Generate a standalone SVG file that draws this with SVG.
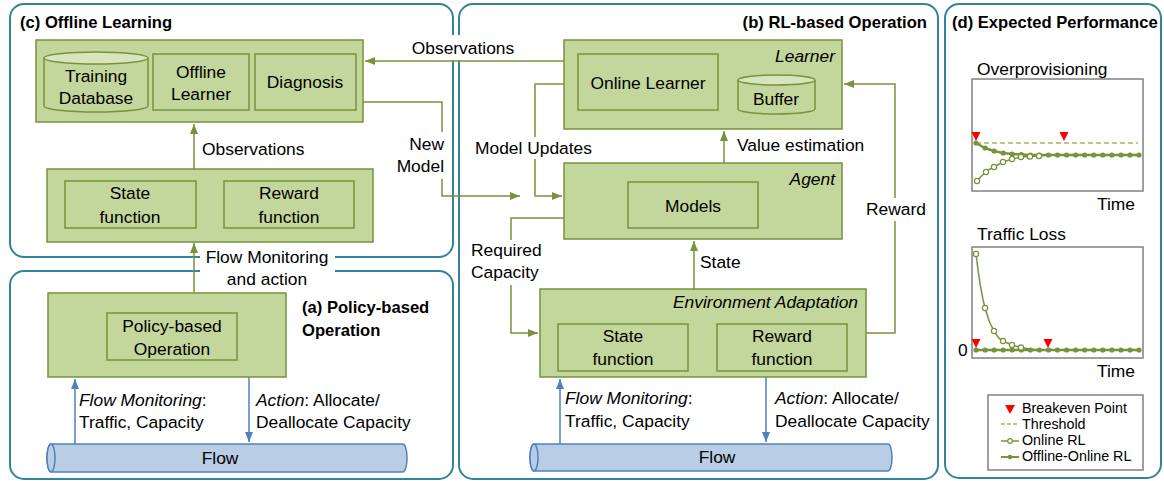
<svg xmlns="http://www.w3.org/2000/svg" width="1164" height="481" viewBox="0 0 1164 481">
<style>
text{font-family:"Liberation Sans",Arial,sans-serif;font-size:17.4px;fill:#000}
.t{font-weight:bold;font-size:16.6px}
.i{font-style:italic}
.c{text-anchor:middle}
.r{text-anchor:end}
.s{font-size:14.3px}
.panel{fill:none;stroke:#31849B;stroke-width:2}
.box{fill:#C3D69B;stroke:#77933C;stroke-width:1.5}
.top{fill:#D7E4BD;stroke:#77933C;stroke-width:1.5}
.flow{fill:#B9CDE5;stroke:#4F81BD;stroke-width:1.5}
.g{fill:none;stroke:#77933C;stroke-width:1.5}
.b{fill:none;stroke:#4F81BD;stroke-width:1.5}
.bg{fill:#fff}
.chart{fill:#fff;stroke:#808080;stroke-width:1.5}
.tri{fill:#FF0000}
</style>
<defs>
<marker id="ag" viewBox="0 0 10 8" refX="10" refY="4" markerWidth="10" markerHeight="8" markerUnits="userSpaceOnUse" orient="auto"><path d="M0,0 L10,4 L0,8 Z" fill="#77933C"/></marker>
<marker id="ab" viewBox="0 0 10 8" refX="10" refY="4" markerWidth="10" markerHeight="8" markerUnits="userSpaceOnUse" orient="auto"><path d="M0,0 L10,4 L0,8 Z" fill="#4F81BD"/></marker>
</defs>
<rect width="1164" height="481" fill="#fff"/>

<g id="panels">
<rect class="panel" x="10" y="4" width="443" height="253" rx="14"/>
<rect class="panel" x="10" y="271" width="443" height="208" rx="14"/>
<rect class="panel" x="459" y="4" width="479" height="475" rx="14"/>
<rect class="panel" x="945" y="4" width="216" height="474" rx="14"/>
<text class="t" x="20" y="28">(c) Offline Learning</text>
<text class="t r" x="927" y="28">(b) RL-based Operation</text>
<text class="t" x="952" y="28">(d) Expected Performance</text>
<text class="t" x="302" y="313">(a) Policy-based</text>
<text class="t" x="302" y="336">Operation</text>
</g>

<g id="connectors">
<path class="g" d="M564,61 H365" marker-end="url(#ag)"/>
<path class="g" d="M194,169 V124" marker-end="url(#ag)"/>
<path class="g" d="M194,293 V243" marker-end="url(#ag)"/>
<path class="g" d="M363,102 H442 V196 H520" marker-end="url(#ag)"/>
<path class="g" d="M564,84 H535 V196 H562" marker-end="url(#ag)"/>
<path class="g" d="M724,163 V131" marker-end="url(#ag)"/>
<path class="g" d="M694,289 V241" marker-end="url(#ag)"/>
<path class="g" d="M564,218 H511 V333 H538" marker-end="url(#ag)"/>
<path class="g" d="M866,333 H895 V84 H844" marker-end="url(#ag)"/>
<path class="b" d="M75,444 V379" marker-end="url(#ab)"/>
<path class="b" d="M249,377 V442" marker-end="url(#ab)"/>
<path class="b" d="M560,444 V379" marker-end="url(#ab)"/>
<path class="b" d="M766,377 V442" marker-end="url(#ab)"/>
</g>

<g id="labels">
<rect class="bg" x="406" y="35" width="114" height="25"/>
<text class="c" x="463" y="54">Observations</text>
<text x="202" y="155">Observations</text>
<rect class="bg" x="200" y="244" width="135" height="46"/>
<text class="c" x="267" y="263">Flow Monitoring</text>
<text class="c" x="267" y="285">and action</text>
<rect class="bg" x="400" y="132" width="48" height="47"/>
<text class="r" x="444" y="150">New</text>
<text class="r" x="444" y="172">Model</text>
<rect class="bg" x="472" y="137" width="130" height="22"/>
<text x="475" y="154">Model Updates</text>
<text x="737" y="151">Value estimation</text>
<rect class="bg" x="864" y="198" width="64" height="23"/>
<text class="c" x="896" y="215">Reward</text>
<rect class="bg" x="468" y="240" width="78" height="45"/>
<text x="471" y="256">Required</text>
<text x="471" y="278">Capacity</text>
<text x="700" y="268">State</text>
<text x="79" y="406"><tspan class="i">Flow Monitoring</tspan>:</text>
<text x="79" y="428">Traffic, Capacity</text>
<text x="256" y="406"><tspan class="i">Action</tspan>: Allocate/</text>
<text x="256" y="428">Deallocate Capacity</text>
<text x="565" y="404"><tspan class="i">Flow Monitoring</tspan>:</text>
<text x="565" y="427">Traffic, Capacity</text>
<text x="775" y="404"><tspan class="i">Action</tspan>: Allocate/</text>
<text x="775" y="427">Deallocate Capacity</text>
</g>

<g id="offline-top">
<rect class="box" x="36" y="40" width="327" height="82"/>
</g>
<g id="training-database">
<path class="box" d="M44,58 V106 A52,6 0 0 0 148,106 V58"/>
<ellipse class="top" cx="96" cy="58" rx="52" ry="6"/>
<text class="c" x="96" y="82">Training</text>
<text class="c" x="96" y="104">Database</text>
</g>
<g id="offline-learner">
<rect class="box" x="153" y="54" width="96" height="56"/>
<text class="c" x="201" y="78">Offline</text>
<text class="c" x="201" y="100">Learner</text>
</g>
<g id="diagnosis">
<rect class="box" x="255" y="54" width="101" height="56"/>
<text class="c" x="305" y="88">Diagnosis</text>
</g>

<g id="offline-functions">
<rect class="box" x="47" y="169" width="326" height="73"/>
<rect class="box" x="65" y="181" width="131" height="47"/>
<text class="c" x="130" y="199">State</text>
<text class="c" x="130" y="223">function</text>
<rect class="box" x="224" y="181" width="130" height="47"/>
<text class="c" x="289" y="199">Reward</text>
<text class="c" x="289" y="223">function</text>
</g>

<g id="policy-operation">
<rect class="box" x="48" y="293" width="238" height="84"/>
<rect class="box" x="107" y="313" width="130" height="47"/>
<text class="c" x="172" y="332">Policy-based</text>
<text class="c" x="172" y="355">Operation</text>
</g>

<g id="flow-a">
<path class="flow" d="M51,444 H403 A4,14 0 0 1 403,472 H51 A4,14 0 0 1 51,444 Z"/>
<ellipse class="flow" cx="51" cy="458" rx="4" ry="14"/>
<text class="c" x="220" y="464">Flow</text>
</g>

<g id="learner">
<rect class="box" x="564" y="40" width="278" height="89"/>
<text class="i r" x="835" y="62">Learner</text>
<rect class="box" x="578" y="54" width="140" height="56"/>
<text class="c" x="648" y="89">Online Learner</text>
<path class="box" d="M738,80 V109 A38.5,5 0 0 0 815,109 V80"/>
<ellipse class="top" cx="776.5" cy="80" rx="38.5" ry="5"/>
<text class="c" x="776" y="105">Buffer</text>
</g>

<g id="agent">
<rect class="box" x="564" y="163" width="278" height="76"/>
<text class="i r" x="835" y="185">Agent</text>
<rect class="box" x="628" y="182" width="130" height="46"/>
<text class="c" x="693" y="212">Models</text>
</g>

<g id="environment-adaptation">
<rect class="box" x="540" y="289" width="326" height="88"/>
<text class="i r" x="858" y="308">Environment Adaptation</text>
<rect class="box" x="558" y="324" width="130" height="47"/>
<text class="c" x="623" y="342">State</text>
<text class="c" x="623" y="365">function</text>
<rect class="box" x="717" y="324" width="130" height="47"/>
<text class="c" x="782" y="342">Reward</text>
<text class="c" x="782" y="365">function</text>
</g>

<g id="flow-b">
<path class="flow" d="M534,444 H888 A4,13.5 0 0 1 888,471 H534 A4,13.5 0 0 1 534,444 Z"/>
<ellipse class="flow" cx="534" cy="457.5" rx="4" ry="13.5"/>
<text class="c" x="717" y="463">Flow</text>
</g>

<g id="chart-overprovisioning">
<text x="977" y="75">Overprovisioning</text>
<rect class="chart" x="972" y="79" width="171" height="112"/>
<path d="M976,143 H1138" fill="none" stroke="#9BBB59" stroke-width="1.5" stroke-dasharray="5,3"/>
<path d="M977,181 L981.5,176 L986,172 L990,169 L994,167 L1003,162 L1012,159 L1021,157 L1030,156.5 L1039,156 L1048,155" fill="none" stroke="#77933C" stroke-width="1.5"/>
<path d="M976,143 L985,148 L994,151 L1003,153 L1012,154 L1021,154.5 L1030,155 L1139,155" fill="none" stroke="#77933C" stroke-width="2.5"/>
<g fill="#77933C">
<circle cx="976" cy="143" r="2.6"/><circle cx="985.1" cy="148" r="2.6"/><circle cx="994.1" cy="151" r="2.6"/><circle cx="1003.2" cy="153" r="2.6"/><circle cx="1012.2" cy="154" r="2.6"/><circle cx="1021.3" cy="154.5" r="2.6"/><circle cx="1030.4" cy="155" r="2.6"/><circle cx="1039.4" cy="155" r="2.6"/><circle cx="1048.5" cy="155" r="2.6"/><circle cx="1057.5" cy="155" r="2.6"/><circle cx="1066.6" cy="155" r="2.6"/><circle cx="1075.7" cy="155" r="2.6"/><circle cx="1084.7" cy="155" r="2.6"/><circle cx="1093.8" cy="155" r="2.6"/><circle cx="1102.8" cy="155" r="2.6"/><circle cx="1111.9" cy="155" r="2.6"/><circle cx="1121" cy="155" r="2.6"/><circle cx="1130" cy="155" r="2.6"/><circle cx="1139" cy="155" r="2.6"/>
</g>
<g fill="#fff" stroke="#77933C" stroke-width="1.2">
<circle cx="977" cy="181" r="2.6"/><circle cx="986" cy="172" r="2.6"/><circle cx="994" cy="167" r="2.6"/><circle cx="1003" cy="162" r="2.6"/><circle cx="1012" cy="159" r="2.6"/><circle cx="1021" cy="157" r="2.6"/><circle cx="1030" cy="156.5" r="2.6"/><circle cx="1039" cy="156" r="2.6"/>
</g>
<path class="tri" d="M971.5,132 H980.5 L976,141 Z"/>
<path class="tri" d="M1059.5,132 H1068.5 L1064,141 Z"/>
<text x="1097" y="210">Time</text>
</g>

<g id="chart-traffic-loss">
<text x="977" y="240">Traffic Loss</text>
<rect class="chart" x="972" y="247" width="171" height="111"/>
<path d="M976,254 L978.3,272 L980.5,286.5 L982.8,298.4 L985,308 L989.5,322 L994,331 L998.5,337.9 L1003,341 L1012,345 L1021,347.5 L1030,349 L1039,350" fill="none" stroke="#77933C" stroke-width="1.5"/>
<path d="M976,350 H1139" fill="none" stroke="#77933C" stroke-width="2.5"/>
<g fill="#77933C">
<circle cx="976" cy="350" r="2.6"/><circle cx="985.1" cy="350" r="2.6"/><circle cx="994.1" cy="350" r="2.6"/><circle cx="1003.2" cy="350" r="2.6"/><circle cx="1012.2" cy="350" r="2.6"/><circle cx="1021.3" cy="350" r="2.6"/><circle cx="1030.4" cy="350" r="2.6"/><circle cx="1039.4" cy="350" r="2.6"/><circle cx="1048.5" cy="350" r="2.6"/><circle cx="1057.5" cy="350" r="2.6"/><circle cx="1066.6" cy="350" r="2.6"/><circle cx="1075.7" cy="350" r="2.6"/><circle cx="1084.7" cy="350" r="2.6"/><circle cx="1093.8" cy="350" r="2.6"/><circle cx="1102.8" cy="350" r="2.6"/><circle cx="1111.9" cy="350" r="2.6"/><circle cx="1121" cy="350" r="2.6"/><circle cx="1130" cy="350" r="2.6"/><circle cx="1139" cy="350" r="2.6"/>
</g>
<g fill="#fff" stroke="#77933C" stroke-width="1.2">
<circle cx="976" cy="254" r="2.6"/><circle cx="985" cy="308" r="2.6"/><circle cx="994" cy="331" r="2.6"/><circle cx="1003" cy="341" r="2.6"/><circle cx="1012" cy="345" r="2.6"/><circle cx="1021" cy="347.5" r="2.6"/>
</g>
<path class="tri" d="M971.5,339 H980.5 L976,348 Z"/>
<path class="tri" d="M1043.5,339 H1052.5 L1048,348 Z"/>
<text x="958" y="356">0</text>
<text x="1097" y="377">Time</text>
</g>

<g id="legend">
<rect class="chart" x="988" y="395" width="155" height="75"/>
<path class="tri" d="M1005,405 H1015 L1010,414 Z"/>
<text class="s" x="1022" y="413">Breakeven Point</text>
<path d="M1001,424 H1019" fill="none" stroke="#9BBB59" stroke-width="1.5" stroke-dasharray="4,2"/>
<text class="s" x="1022" y="429">Threshold</text>
<path d="M1001,441 H1019" fill="none" stroke="#77933C" stroke-width="1.5"/>
<circle cx="1010" cy="441" r="2.3" fill="#fff" stroke="#77933C" stroke-width="1.2"/>
<text class="s" x="1022" y="445">Online RL</text>
<path d="M1001,457 H1019" fill="none" stroke="#77933C" stroke-width="2"/>
<circle cx="1010" cy="457" r="2.3" fill="#77933C"/>
<text class="s" x="1022" y="461">Offline-Online RL</text>
</g>
</svg>
